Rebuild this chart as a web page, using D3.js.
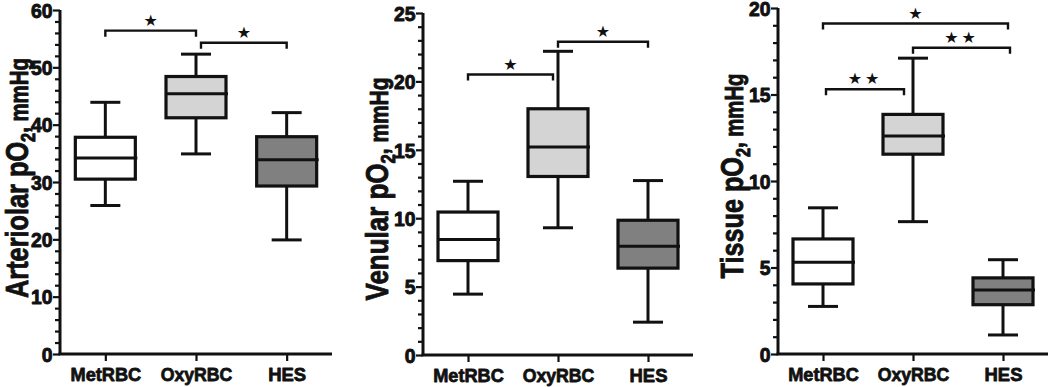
<!DOCTYPE html>
<html>
<head>
<meta charset="utf-8">
<script src="https://cdn.jsdelivr.net/npm/d3@7"></script>
<style>
  html, body { margin: 0; padding: 0; background: #fff; }
  svg { display: block; }
  text { font-family: "Liberation Sans", Arial, sans-serif; font-weight: bold; fill: #111; }
</style>
</head>
<body>
<svg id="chart" width="1050" height="387"></svg>
<script>
// ---- Data ----
const categories = ["MetRBC", "OxyRBC", "HES"];
// each row: [min, q1, median, q3, max]
const arteriolarStats = [
  [25.9, 30.5, 34.2, 37.8, 43.9],
  [34.9, 41.2, 45.4, 48.4, 52.3],
  [19.9, 29.3, 33.9, 37.9, 42.1]
];
const venularStats = [
  [4.45, 6.9, 8.45, 10.45, 12.7],
  [9.3, 13.05, 15.2, 18.0, 22.2],
  [2.4, 6.35, 7.95, 9.85, 12.75]
];
const tissueStats = [
  [2.75, 4.05, 5.3, 6.65, 8.45],
  [7.65, 11.55, 12.6, 13.85, 17.1],
  [1.1, 2.85, 3.7, 4.4, 5.45]
];
const boxFills = ["#ffffff", "#d4d4d4", "#808080"];
const arteriolarTicks = [0, 10, 20, 30, 40, 50, 60];
const venularTicks = [0, 5, 10, 15, 20, 25];
const tissueTicks = [0, 5, 10, 15, 20];
// significance brackets: [from category, to category, y value, label]
const arteriolarSig = [[0, 1, 56.4, "★"], [1, 2, 54.3, "★"]];
const venularSig = [[0, 1, 20.5, "★"], [1, 2, 22.9, "★"]];
const tissueSig = [[0, 2, 19.1, "★"], [1, 2, 17.7, "★★"], [0, 1, 15.3, "★★"]];

// ---- Layout ----
const panels = [
  { stats: arteriolarStats, ticks: arteriolarTicks, minorStep: 2, sig: arteriolarSig,
    label: ["Arteriolar pO", "2", ", mmHg"],
    x0: 60, x1: 332, yTop: 10, yBot: 354, labelX: 28, labelY: 178, labelLen: 240,
    sigOffsets: [[0, 0], [5, 0]] },
  { stats: venularStats, ticks: venularTicks, minorStep: 1, sig: venularSig,
    label: ["Venular pO", "2", ", mmHg"],
    x0: 423, x1: 693, yTop: 13, yBot: 355, labelX: 388, labelY: 189, labelLen: 223,
    sigOffsets: [[0, -5], [0, 0]] },
  { stats: tissueStats, ticks: tissueTicks, minorStep: 1, sig: tissueSig,
    label: ["Tissue pO", "2", ", mmHg"],
    x0: 778, x1: 1048, yTop: 8, yBot: 354, labelX: 743, labelY: 176, labelLen: 205,
    sigOffsets: [[0, 5], [0, 7], [3, -9]] }
];
const catLabelWidths = { MetRBC: 71, OxyRBC: 72, HES: 38 };
const digitWidth = 10.8;

const FONT = "'Liberation Sans', Arial, sans-serif";
const svg = d3.select("#chart");

function heavy(sel, sw) {
  sel.style("font-family", FONT).style("font-weight", "bold")
    .attr("fill", "#111").attr("stroke", "#111").attr("stroke-width", sw)
    .attr("stroke-linejoin", "round");
}
// horizontally fit a text element to a target width, keeping its anchor point (ax)
function fitWidth(node, target, ax) {
  const w = node.getBBox().width;
  if (!(w > 0)) return;
  const sx = target / w;
  node.setAttribute("x", ax / sx);
  node.setAttribute("transform", `scale(${sx},1)`);
}

panels.forEach(p => {
  const g = svg.append("g");
  const dmax = d3.max(p.ticks);
  const y = d3.scaleLinear().domain([0, dmax]).range([p.yBot, p.yTop]);
  const x = d3.scalePoint().domain(categories).range([p.x0, p.x1]).padding(0.5);

  // minor ticks
  const minorVals = d3.range(0, dmax + 0.001, p.minorStep).filter(v => !p.ticks.includes(v));
  const minorAxis = g.append("g")
    .attr("transform", `translate(${p.x0},0)`)
    .call(d3.axisLeft(y).tickValues(minorVals).tickSize(5).tickFormat(""));
  minorAxis.select(".domain").remove();
  minorAxis.selectAll("line").attr("stroke", "#111").attr("stroke-width", 2.2);

  // major y axis
  const yAxis = g.append("g")
    .attr("transform", `translate(${p.x0},0)`)
    .call(d3.axisLeft(y).tickValues(p.ticks).tickSize(7).tickSizeOuter(0).tickFormat(d3.format("d")));
  yAxis.select(".domain").attr("stroke", "#111").attr("stroke-width", 3)
    .attr("d", `M0,${p.yTop}V${p.yBot + 1}`);
  yAxis.selectAll(".tick line").attr("stroke", "#111").attr("stroke-width", 2.2);
  yAxis.selectAll(".tick text")
    .attr("font-size", 20)
    .attr("dy", "0.36em")
    .call(heavy, 0.9)
    .each(function(d) { fitWidth(this, String(d).length * digitWidth, -7.5); });

  // x axis
  const xAxis = g.append("g")
    .attr("transform", `translate(0,${p.yBot})`)
    .call(d3.axisBottom(x).tickSize(7).tickSizeOuter(0).tickPadding(7));
  xAxis.select(".domain").attr("stroke", "#111").attr("stroke-width", 3)
    .attr("d", `M${p.x0 - 1.5},0H${p.x1}`);
  xAxis.selectAll(".tick line").attr("stroke", "#111").attr("stroke-width", 2.2);
  xAxis.selectAll(".tick text")
    .attr("font-size", 19)
    .call(heavy, 0.8)
    .each(function(d) { fitWidth(this, catLabelWidths[d], 0); });

  // boxes
  const bw = 60, cw = 30;
  categories.forEach((c, i) => {
    const [mn, q1, md, q3, mx] = p.stats[i];
    const cx = x(c);
    const bg = g.append("g");
    bg.append("line").attr("x1", cx).attr("x2", cx).attr("y1", y(mx)).attr("y2", y(q3))
      .attr("stroke", "#111").attr("stroke-width", 3);
    bg.append("line").attr("x1", cx).attr("x2", cx).attr("y1", y(q1)).attr("y2", y(mn))
      .attr("stroke", "#111").attr("stroke-width", 3);
    bg.append("line").attr("x1", cx - cw / 2).attr("x2", cx + cw / 2).attr("y1", y(mx)).attr("y2", y(mx))
      .attr("stroke", "#111").attr("stroke-width", 3);
    bg.append("line").attr("x1", cx - cw / 2).attr("x2", cx + cw / 2).attr("y1", y(mn)).attr("y2", y(mn))
      .attr("stroke", "#111").attr("stroke-width", 3);
    bg.append("rect").attr("x", cx - bw / 2).attr("width", bw)
      .attr("y", y(q3)).attr("height", y(q1) - y(q3))
      .attr("fill", boxFills[i]).attr("stroke", "#111").attr("stroke-width", 3.2);
    bg.append("line").attr("x1", cx - bw / 2).attr("x2", cx + bw / 2 + 2).attr("y1", y(md)).attr("y2", y(md))
      .attr("stroke", "#111").attr("stroke-width", 3);
  });

  // significance brackets
  p.sig.forEach((s, k) => {
    const [a, b, yv, lab] = s;
    const [da, db] = p.sigOffsets[k];
    const xa = x(categories[a]) + da, xb = x(categories[b]) + db, yy = y(yv);
    g.append("path")
      .attr("d", `M${xa},${yy + 6}V${yy}H${xb}V${yy + 6}`)
      .attr("fill", "none").attr("stroke", "#111").attr("stroke-width", 2.4);
    g.append("text").attr("x", (xa + xb) / 2).attr("y", yy - 5)
      .attr("text-anchor", "middle").attr("font-size", 16)
      .style("font-family", "'DejaVu Sans', sans-serif").style("font-weight", "normal")
      .attr("letter-spacing", lab.length > 1 ? 3 : 0)
      .text(lab);
  });

  // y label (rotated, horizontally fitted to measured length)
  const lg = g.append("g")
    .attr("transform", `translate(${p.labelX},${p.labelY}) rotate(-90)`);
  const t = lg.append("text")
    .attr("text-anchor", "middle")
    .call(heavy, 0.9);
  t.append("tspan").attr("font-size", 31).text(p.label[0]);
  t.append("tspan").attr("font-size", 20).attr("dy", 7).text(p.label[1]);
  t.append("tspan").attr("font-size", 25).attr("dy", -7).text(p.label[2]);
  const natural = t.node().getBBox().width;
  const sx = natural > 0 ? p.labelLen / natural : 0.86;
  t.attr("transform", `scale(${sx},1)`);
});
</script>
</body>
</html>
